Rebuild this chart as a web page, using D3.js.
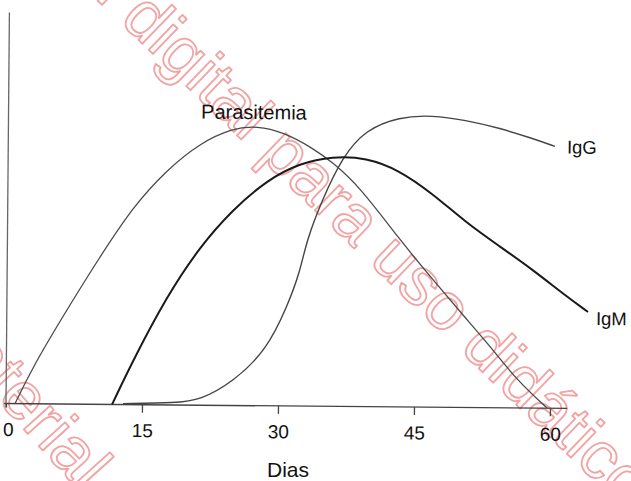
<!DOCTYPE html>
<html>
<head>
<meta charset="utf-8">
<script src="https://cdn.jsdelivr.net/npm/d3@7.9.0/dist/d3.min.js"></script>
<style>
  html, body { margin: 0; padding: 0; background: #fff; }
  svg { display: block; font-family: "Liberation Sans", Arial, sans-serif; }
</style>
</head>
<body>
<svg id="chart" width="631" height="481"></svg>
<script>
// days / relative level
const parasitemiaDays = [1, 2.9, 6.6, 10.2, 13.8, 17.5, 21.1, 24.8, 27.4, 30.3, 33.6, 35.8, 38.8, 43.2, 46.9, 50.6, 53.2, 56.3, 59.7];
const parasitemiaValues = [0, 12.2, 31.3, 49.1, 65.9, 78.3, 87.3, 92.5, 93.2, 91.3, 86, 81.3, 73.3, 56, 42.7, 29.8, 21, 9.3, 0];

const igmDays = [11.7, 14, 17.6, 21.2, 24.8, 28.6, 32.2, 35.8, 39.5, 43.1, 46.8, 50.5, 54.2, 57.9, 61.5, 64.1];
const igmValues = [0, 14.9, 36, 52.7, 65.2, 75.3, 81, 83.3, 83, 79, 71.3, 61.8, 54, 46.3, 37.8, 32.2];

const iggDays = [12.9, 18.8, 21.4, 25, 28.7, 30.9, 32.3, 33, 34.7, 36.9, 39.4, 43.1, 46.7, 50.4, 54.1, 57.7, 60.3];
const iggValues = [0.3, 0.7, 1.7, 7.8, 18.6, 33, 44.7, 55.3, 69, 83.3, 92.3, 96.7, 97.3, 95.8, 93.3, 90, 87.3];

const dayTicks = [0, 15, 30, 45, 60];
const xLabel = "Dias";
const watermark = "Material digital para uso didático";

const svg = d3.select("#chart");

// watermark, drawn first so the curves sit on top
const wm = svg.append("g")
    .attr("fill", "none")
    .attr("stroke", "#f2a3a3")
    .attr("stroke-width", 1.8)
    .attr("stroke-linejoin", "round")
    .style("font-size", "67px");

wm.append("text")
    .attr("transform", "translate(152,-12) rotate(44)")
    .attr("x", -258)
    .attr("dy", "0.7em")
    .text(watermark);

wm.append("text")
    .attr("transform", "translate(-44,284) rotate(48)")
    .attr("dy", "0.7em")
    .text(watermark);

// the scanned figure is tilted a little, so the plot is rotated about its origin
const plot = svg.append("g")
    .attr("transform", "translate(6,403.5) rotate(0.5)");

const x = d3.scaleLinear().domain([0, 60]).range([0, 544]);
const y = d3.scaleLinear().domain([0, 100]).range([0, -300]);

plot.append("line")
    .attr("x1", 0).attr("y1", 4)
    .attr("x2", 0).attr("y2", -391)
    .attr("stroke", "#666")
    .attr("stroke-width", 1.3);

const xAxis = plot.append("g")
    .call(d3.axisBottom(x).tickValues(dayTicks).tickSize(8).tickPadding(11).tickFormat(d3.format("d")));

xAxis.select(".domain").remove();
xAxis.selectAll(".tick line").attr("stroke", "#444").attr("stroke-width", 1.3);
xAxis.selectAll(".tick").filter(d => d === 0).select("line").attr("y2", 4);
xAxis.selectAll(".tick text")
    .style("font-size", "19px")
    .attr("fill", "#111")
    .attr("font-family", "Liberation Sans, Arial, sans-serif");
xAxis.selectAll(".tick").filter(d => d === 0).select("text").attr("dx", 2);

plot.append("line")
    .attr("x1", x(-0.2)).attr("y1", 0)
    .attr("x2", x(61.9)).attr("y2", 0)
    .attr("stroke", "#444")
    .attr("stroke-width", 1.4);

const line = d3.line()
    .x(d => x(d[0]))
    .y(d => y(d[1]))
    .curve(d3.curveBasis);

const series = [
    { name: "Parasitemia", days: parasitemiaDays, values: parasitemiaValues, color: "#4a4a4a", width: 1.3 },
    { name: "IgG", days: iggDays, values: iggValues, color: "#444", width: 1.4 },
    { name: "IgM", days: igmDays, values: igmValues, color: "#1a1a1a", width: 2 }
];

series.forEach(s => {
    plot.append("path")
        .datum(d3.zip(s.days, s.values))
        .attr("fill", "none")
        .attr("stroke", s.color)
        .attr("stroke-width", s.width)
        .attr("d", line);
});

// curve labels
const peakIdx = d3.maxIndex(parasitemiaValues);
plot.append("text")
    .attr("x", x(parasitemiaDays[peakIdx]) - 3)
    .attr("y", y(parasitemiaValues[peakIdx]) - 7)
    .attr("text-anchor", "middle")
    .style("font-size", "20px")
    .attr("fill", "#111")
    .text("Parasitemia");

plot.append("text")
    .attr("x", x(iggDays[iggDays.length - 1]) + 12)
    .attr("y", y(iggValues[iggValues.length - 1]) + 7)
    .style("font-size", "18.5px")
    .attr("fill", "#111")
    .text("IgG");

plot.append("text")
    .attr("x", x(igmDays[igmDays.length - 1]) + 8)
    .attr("y", y(igmValues[igmValues.length - 1]) + 13)
    .style("font-size", "18.5px")
    .attr("fill", "#111")
    .text("IgM");

svg.append("text")
    .attr("x", 288)
    .attr("y", 477)
    .attr("text-anchor", "middle")
    .style("font-size", "21px")
    .attr("fill", "#111")
    .text(xLabel);
</script>
</body>
</html>
